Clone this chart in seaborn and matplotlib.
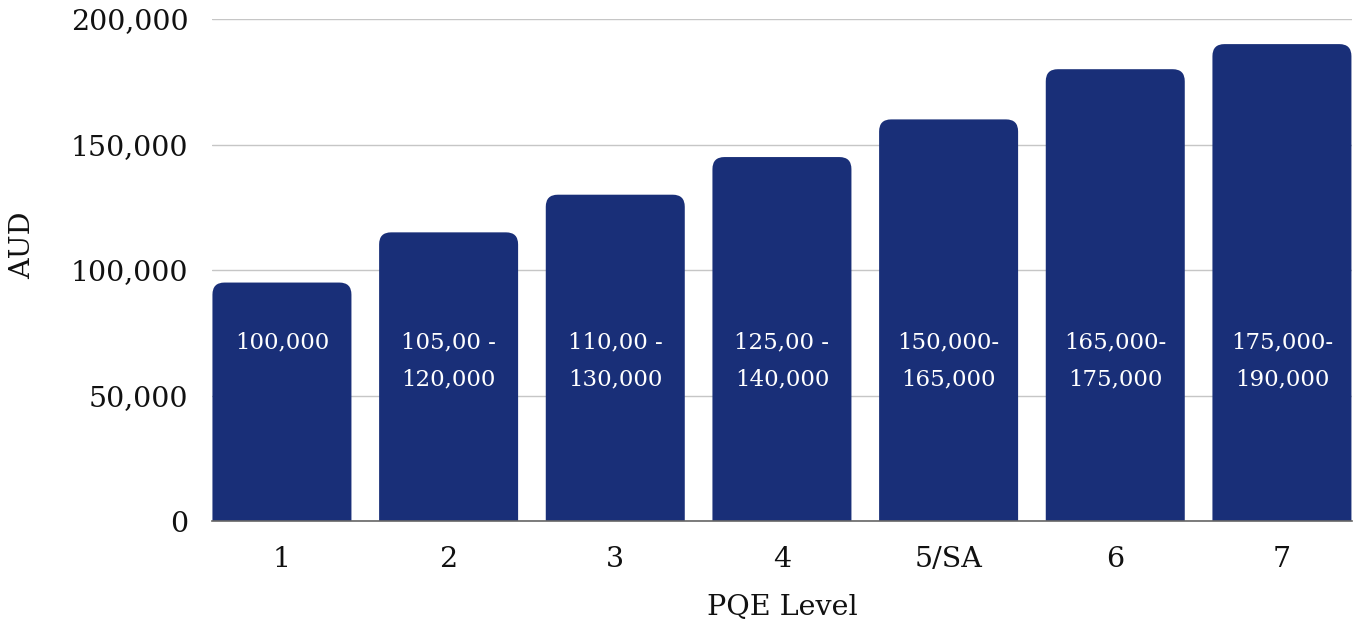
import matplotlib
matplotlib.use("Agg")
import matplotlib.pyplot as plt
from matplotlib.patches import FancyBboxPatch
from matplotlib.ticker import FuncFormatter
import pandas as pd
import seaborn as sns

# Salary bands by post-qualification experience level
levels = ["1", "2", "3", "4", "5/SA", "6", "7"]
salaries = [95000, 115000, 130000, 145000, 160000, 180000, 190000]
band_labels = [
    "100,000",
    "105,00 -\n120,000",
    "110,00 -\n130,000",
    "125,00 -\n140,000",
    "150,000-\n165,000",
    "165,000-\n175,000",
    "175,000-\n190,000",
]
y_ticks = [0, 50000, 100000, 150000, 200000]

BAR_COLOR = "#192f78"
FONT = ["DejaVu Serif"]

sns.set_theme(style="white")
plt.rcParams["font.family"] = FONT

df = pd.DataFrame({"level": levels, "aud": salaries})

fig = plt.figure(figsize=(13.56, 6.25), dpi=100)
ax = fig.add_axes([0.1563, 0.1664, 0.8407, 0.8032])

sns.barplot(data=df, x="level", y="aud", color=BAR_COLOR, width=0.834,
            saturation=1, ax=ax, zorder=3)

ax.set_xlim(-0.42, len(levels) - 1 + 0.42)
ax.set_ylim(0, 200000)

# Swap the plain rectangles for bars with rounded top corners
rx = 0.072
ry = 4800
for patch in list(ax.patches):
    x0 = patch.get_x()
    w = patch.get_width()
    h = patch.get_height()
    patch.remove()
    box = FancyBboxPatch((x0, -2 * ry), w, h + 2 * ry,
                         boxstyle=f"round,pad=0,rounding_size={rx}",
                         mutation_aspect=ry / rx,
                         facecolor=BAR_COLOR, edgecolor="none", zorder=3)
    ax.add_patch(box)

# Band text inside each bar
for i, txt in enumerate(band_labels):
    ax.text(i, 75500, txt, ha="center", va="top", color="white",
            fontsize=16.5, linespacing=1.85, zorder=4)

ax.set_yticks(y_ticks)
ax.yaxis.set_major_formatter(FuncFormatter(lambda v, _: f"{int(v):,}"))
ax.grid(axis="y", color="#c6c6c6", linewidth=1, zorder=0)
ax.grid(axis="x", visible=False)

for side in ["top", "right", "left"]:
    ax.spines[side].set_visible(False)
ax.spines["bottom"].set_color("#666666")
ax.spines["bottom"].set_linewidth(1.2)
ax.spines["bottom"].set_zorder(5)

ax.tick_params(axis="y", length=0, pad=17, labelsize=20.5, labelcolor="#111111")
ax.tick_params(axis="x", length=0, pad=18, labelsize=20.5, labelcolor="#111111")

ax.set_xlabel("PQE Level", fontsize=20.5, color="#111111", labelpad=15)
ax.set_ylabel("AUD", fontsize=20.5, color="#111111")
ax.yaxis.set_label_coords(-0.154, 0.55)

fig.savefig("out.png", dpi=100)
